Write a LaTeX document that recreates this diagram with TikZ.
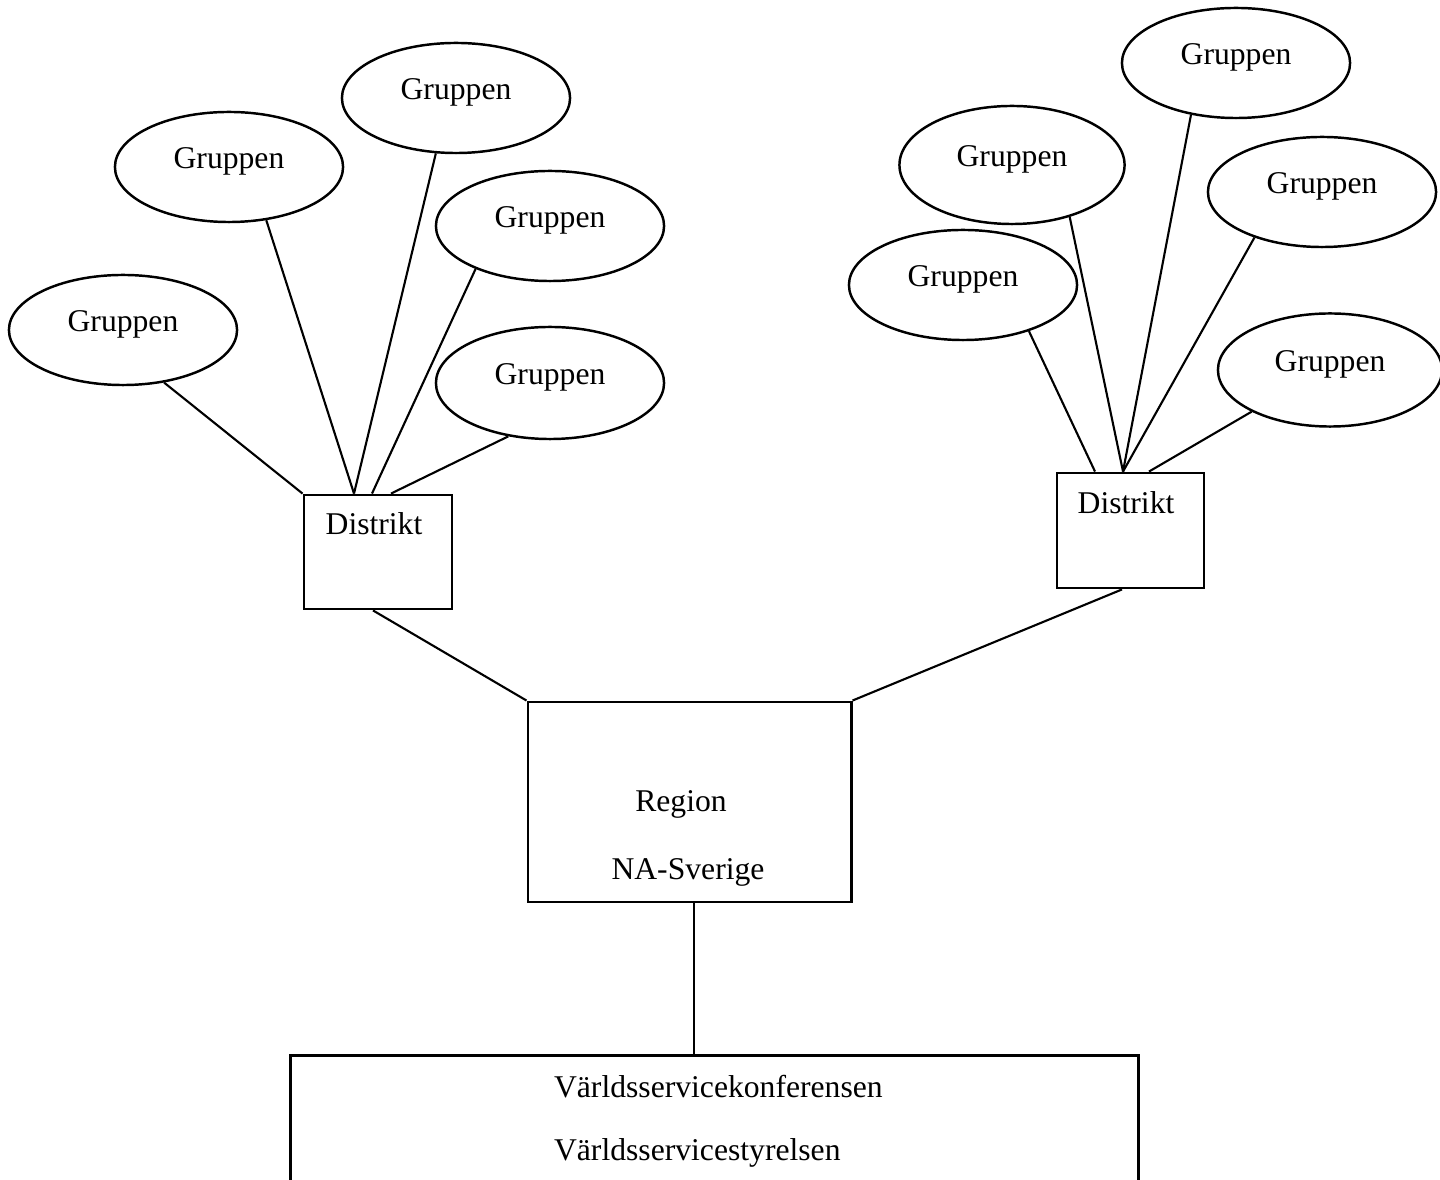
\documentclass[tikz,border=0pt]{standalone}
\usepackage{fontspec}
\setmainfont{Liberation Serif}
\usetikzlibrary{shapes, positioning, calc}

\begin{document}
\begin{tikzpicture}[x=0.01cm, y=-0.01cm, line width=0.6pt,
  every node/.style={font=\fontsize{9}{11}\selectfont},
  gruppe/.style={draw, ellipse, line width=0.7pt, minimum width=2.28cm, minimum height=1.1cm, inner sep=0pt, text height=1.7mm, text depth=1.3mm},
  ruta/.style={draw, rectangle, line width=0.8pt, inner sep=0pt},
  etikett/.style={inner sep=0pt}]
\useasboundingbox (0,0) rectangle (1440,1180);
\clip (0,0) rectangle (1440,1180);

\node[gruppe] (g1) at (123,330) {Gruppen};
\node[gruppe] (g2) at (229,167) {Gruppen};
\node[gruppe] (g3) at (456,98) {Gruppen};
\node[gruppe] (g4) at (550,226) {Gruppen};
\node[gruppe, minimum height=1.12cm] (g5) at (550,383) {Gruppen};

\node[gruppe, minimum width=2.25cm, minimum height=1.18cm] (g6) at (1012,165) {Gruppen};
\node[gruppe] (g7) at (1236,63) {Gruppen};
\node[gruppe] (g8) at (1322,192) {Gruppen};
\node[gruppe] (g9) at (963,285) {Gruppen};
\node[gruppe, minimum width=2.24cm, minimum height=1.13cm] (g10) at (1330,370) {Gruppen};

\node[ruta, minimum width=1.48cm, minimum height=1.14cm] (d1) at (378,552) {};
\node[etikett, anchor=base] (d1txt) at (374,535) {Distrikt};
\node[ruta, minimum width=1.47cm, minimum height=1.15cm] (d2) at (1130.5,530.5) {};
\node[etikett, anchor=base] (d2txt) at (1126,514) {Distrikt};

\node[ruta, minimum width=3.23cm, minimum height=2cm] (region) at (689.5,802) {};
\node[etikett, anchor=base] (regtxt) at (681,811) {Region};
\node[etikett, anchor=base] (natxt) at (688,879) {NA-Sverige};

\node[ruta, minimum width=8.47cm, minimum height=2cm, anchor=north] (world) at (714.5,1054) {};
\node[etikett, anchor=base west] (wsctxt) at (553,1097) {Världsservicekonferensen};
\node[etikett, anchor=base west] (wsbtxt) at (553,1160) {Världsservicestyrelsen};

\draw (g1.-52) -- (d1.north west);
\draw (g2.-55) -- ($(d1.north)+(-24,0)$);
\draw (g3.-110) -- ($(d1.north)+(-24,0)$);
\draw (g4.-150) -- ($(d1.north)+(-6,0)$);
\draw (g5.-128) -- ($(d1.north)+(13,0)$);

\draw (g9.-35) -- ($(d2.north)+(-35.5,0)$);
\draw (g6.-42) -- ($(d2.north)+(-7.5,0)$);
\draw (g7.-131) -- ($(d2.north)+(-7.5,0)$);
\draw (g8.-146) -- ($(d2.north)+(-7.5,0)$);
\draw (g10.-152) -- ($(d2.north)+(18.5,0)$);

\draw ($(d1.south)+(-5,0)$) -- (region.north west);
\draw ($(d2.south)+(-8.5,0)$) -- (region.north east);
\draw ($(region.south)+(4.5,0)$) -- ($(world.north)+(-20.5,0)$);
\end{tikzpicture}
\end{document}
